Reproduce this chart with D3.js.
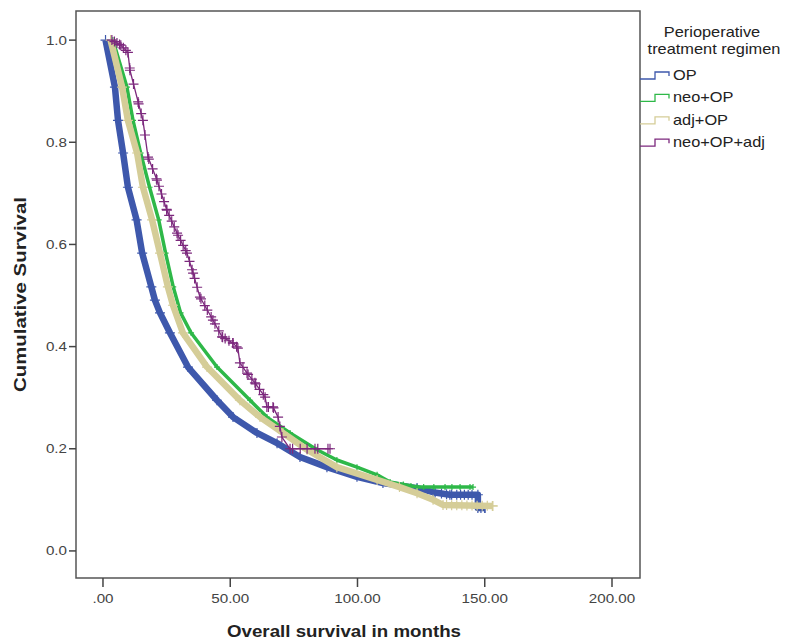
<!DOCTYPE html>
<html>
<head>
<meta charset="utf-8">
<script src="https://cdn.jsdelivr.net/npm/d3@7/dist/d3.min.js"></script>
<style>
  body { margin: 0; background: #fff; }
  text { font-family: "Liberation Sans", Arial, sans-serif; }
</style>
</head>
<body>
<div id="chart"></div>
<script>
// Layout
const MARGIN = { top: 11, right: 158, bottom: 63, left: 76 };
const WIDTH = 798 - MARGIN.left - MARGIN.right;
const HEIGHT = 641 - MARGIN.top - MARGIN.bottom;
const STRETCH = 1.17; // text in the source is wider than tall

// Data
const groups = ["OP", "neo+OP", "adj+OP", "neo+OP+adj"];
const colors = ["#3e58ac", "#2eb848", "#d5cd98", "#7c287d"];
const xTicks = [0, 50, 100, 150, 200];
const yTicks = [0, 0.2, 0.4, 0.6, 0.8, 1.0];

// [months, cumulative survival]
const opCurve = [
  [1.0, 1.0], [4.7, 0.908], [5.9, 0.843], [7.9, 0.779], [9.8, 0.712],
  [13.2, 0.648], [15.4, 0.583], [19.0, 0.517], [20.4, 0.491], [22.4, 0.466],
  [26.3, 0.427], [33.4, 0.360], [44.8, 0.295], [51.1, 0.262], [60.5, 0.231],
  [68.4, 0.211], [77.4, 0.184], [88.0, 0.164], [99.8, 0.145], [110.0, 0.133],
  [123.4, 0.123], [129.7, 0.115], [136.3, 0.110], [147.3, 0.110], [147.3, 0.084],
  [150.1, 0.084]
];
const neoCurve = [
  [3.9, 1.0], [9.4, 0.908], [11.8, 0.843], [14.8, 0.779], [18.3, 0.712],
  [21.9, 0.648], [24.6, 0.583], [27.6, 0.517], [30.5, 0.466], [34.6, 0.427],
  [44.8, 0.360], [57.8, 0.295], [64.4, 0.262], [73.5, 0.231], [84.1, 0.198],
  [91.9, 0.178], [99.8, 0.164], [107.7, 0.149], [112.8, 0.135], [123.4, 0.125],
  [145.4, 0.125]
];
const adjCurve = [
  [3.0, 1.0], [7.5, 0.908], [9.8, 0.843], [13.4, 0.779], [15.7, 0.712],
  [19.3, 0.648], [22.4, 0.583], [25.5, 0.517], [27.5, 0.481], [31.4, 0.427],
  [40.9, 0.360], [53.8, 0.295], [61.7, 0.262], [70.7, 0.231], [80.2, 0.198],
  [91.9, 0.164], [107.7, 0.139], [116.5, 0.125], [123.4, 0.113], [129.7, 0.100],
  [133.6, 0.090], [153.2, 0.088]
];
const neoAdjCurve = [
  [3.5, 1.0], [7.0, 0.99], [9.8, 0.976], [10.6, 0.941], [13.8, 0.879],
  [15.7, 0.843], [17.7, 0.771], [21.2, 0.726], [25.1, 0.667], [29.1, 0.622],
  [33.0, 0.583], [35.4, 0.544], [38.1, 0.497], [43.2, 0.452], [46.8, 0.419],
  [51.1, 0.407], [53.0, 0.397], [53.8, 0.368], [56.6, 0.348], [59.7, 0.329],
  [63.7, 0.301], [64.4, 0.282], [66.8, 0.282], [68.8, 0.262], [70.3, 0.223],
  [73.5, 0.200], [89.2, 0.200]
];

const opCensor = [130.5, 133, 135, 137, 139, 140.5, 142, 143.5, 145, 148.5, 150];
const neoCensor = [118, 121, 126, 130, 134.4, 137.1, 140.3, 144.2];
const adjCensor = [135, 137, 139, 141, 143, 145, 147, 149, 151, 153];
const neoAdjCensor = [
  4.5, 5.5, 6.5, 8, 9, 10.5, 12, 14, 15, 16.5, 18, 19.5, 21, 22, 23, 24,
  25, 26, 27, 28, 29.5, 30.5, 31.5, 32.5, 34, 35, 36, 37, 38.5, 40, 41,
  42.5, 44, 45.5, 47, 48, 49.5, 51, 52.5, 55, 57, 58.5, 60, 61.5, 63, 65,
  67, 69.5, 74.5, 77.5, 80.2, 83.3, 84.4, 88.4
];

const curves = [opCurve, neoCurve, adjCurve, neoAdjCurve];
const censors = [opCensor, neoCensor, adjCensor, neoAdjCensor];
const bandWidth = [6.5, 3.5, 6.5, 1.3]; // dense censor marks read as a band
const markSize = [5, 3, 5, 5];

// Helpers
function survAt(curve, t) {
  for (let i = 1; i < curve.length; i++) {
    const [t0, s0] = curve[i - 1], [t1, s1] = curve[i];
    if (t <= t1) return t1 === t0 ? s1 : s0 + (s1 - s0) * (t - t0) / (t1 - t0);
  }
  return curve[curve.length - 1][1];
}

function stretchedText(parent, x, y, str, opts = {}) {
  const transform = opts.rotate
    ? `translate(${x},${y}) rotate(${opts.rotate}) scale(${opts.sx || STRETCH},1)`
    : `translate(${x},${y}) scale(${opts.sx || STRETCH},1)`;
  return parent.append("text")
    .attr("transform", transform)
    .attr("text-anchor", opts.anchor || "middle")
    .attr("font-size", opts.size || 13)
    .attr("font-weight", opts.weight || "normal")
    .attr("fill", opts.fill || "#333")
    .text(str);
}

const svg = d3.select("#chart").append("svg")
  .attr("width", 798)
  .attr("height", 641);

const g = svg.append("g")
  .attr("transform", `translate(${MARGIN.left},${MARGIN.top})`);

// Scales
const x = d3.scaleLinear().domain([-10.6, 211]).range([0, WIDTH]);
const y = d3.scaleLinear().domain([-0.053, 1.057]).range([HEIGHT, 0]);

// Frame
g.append("rect")
  .attr("width", WIDTH)
  .attr("height", HEIGHT)
  .attr("fill", "none")
  .attr("stroke", "#555")
  .attr("stroke-width", 1.5);

// Y axis ticks
yTicks.forEach(v => {
  g.append("line")
    .attr("x1", -7).attr("x2", 0)
    .attr("y1", y(v)).attr("y2", y(v))
    .attr("stroke", "#444").attr("stroke-width", 1.5);
  stretchedText(g, -9, y(v) + 4.5, d3.format(".1f")(v), { anchor: "end", fill: "#444" });
});

// X axis ticks
xTicks.forEach(v => {
  g.append("line")
    .attr("x1", x(v)).attr("x2", x(v))
    .attr("y1", HEIGHT).attr("y2", HEIGHT + 9)
    .attr("stroke", "#444").attr("stroke-width", 1.5);
  stretchedText(g, x(v), HEIGHT + 25, v === 0 ? ".00" : v.toFixed(2), { fill: "#444" });
});

// Axis titles
stretchedText(svg, 344, 637, "Overall survival in months", { size: 16, weight: "bold", fill: "#222" });
stretchedText(svg, 26, MARGIN.top + HEIGHT / 2, "Cumulative Survival",
  { size: 17, weight: "bold", fill: "#222", rotate: -90, sx: 1.2 });

// Curves
const line = d3.line()
  .x(d => x(d[0]))
  .y(d => y(d[1]));

curves.forEach((curve, i) => {
  const layer = g.append("g").attr("class", "curve-" + i);

  layer.append("path")
    .attr("d", line(curve))
    .attr("fill", "none")
    .attr("stroke", colors[i])
    .attr("stroke-width", bandWidth[i])
    .attr("stroke-linejoin", "round");

  // censor marks: at the knots plus the explicit censored times
  const marks = curve.map(d => d).concat(censors[i].map(t => [t, survAt(curve, t)]));
  const size = markSize[i];
  layer.selectAll("path.mark")
    .data(marks)
    .join("path")
    .attr("class", "mark")
    .attr("d", d => `M${x(d[0]) - size},${y(d[1])}H${x(d[0]) + size}M${x(d[0])},${y(d[1]) - size}V${y(d[1]) + size}`)
    .attr("stroke", colors[i])
    .attr("stroke-width", 1.2);
});

// Legend
const legend = svg.append("g");
stretchedText(legend, 712, 37, "Perioperative", { size: 14, fill: "#222" });
stretchedText(legend, 714, 54, "treatment regimen", { size: 14, fill: "#222" });

groups.forEach((name, i) => {
  const cy = 75 + i * 22.4;
  legend.append("path")
    .attr("d", `M640,${cy + 4}H655V${cy - 3}H669V${cy + 1}`)
    .attr("fill", "none")
    .attr("stroke", colors[i])
    .attr("stroke-width", 1.3);
  stretchedText(legend, 673, cy + 5, name, { anchor: "start", size: 14, fill: "#222" });
});
</script>
</body>
</html>
